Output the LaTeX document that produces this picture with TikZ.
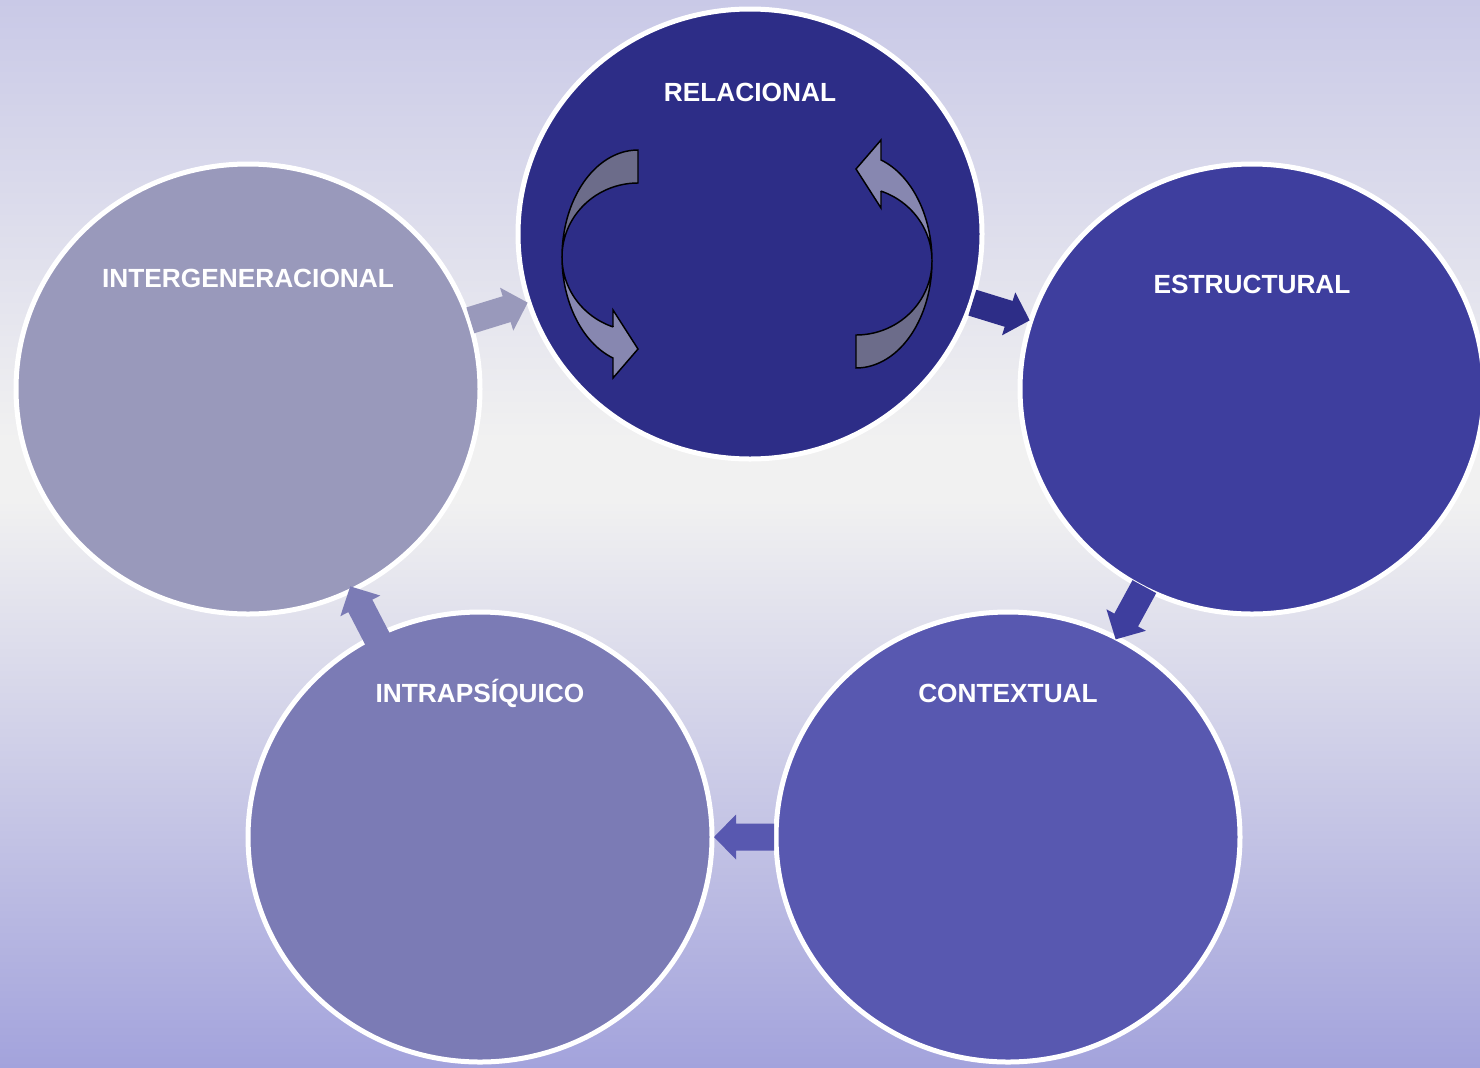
\documentclass[tikz,border=0pt]{standalone}
\usepackage{fontspec}
\setmainfont{Liberation Sans}
\usetikzlibrary{shapes.geometric,calc}
\definecolor{bgtop}{HTML}{C9C9E7}
\definecolor{bgmid}{HTML}{F1F1F1}
\definecolor{bgbot}{HTML}{A3A3DC}
\definecolor{relc}{HTML}{2D2D87}
\definecolor{estc}{HTML}{3E3E9E}
\definecolor{conc}{HTML}{5858B0}
\definecolor{intrac}{HTML}{7B7BB5}
\definecolor{interc}{HTML}{9999BB}
\definecolor{cadark}{HTML}{6C6C8A}
\definecolor{calight}{HTML}{8787B0}
\begin{document}
\begin{tikzpicture}[x=0.75pt,y=-0.75pt,
  circ/.style={ellipse, draw=white, line width=3.75pt, inner sep=0pt,
               minimum width=348pt, minimum height=337.5pt},
  lbl/.style={text=white, font=\fontsize{19.7}{22}\selectfont\bfseries,
              anchor=base, inner sep=0pt},
  barrow/.pic={\fill[pic actions] (-30,-13.5) -- (8,-13.5) -- (8,-22.5) -- (30,0)
               -- (8,22.5) -- (8,13.5) -- (-30,13.5) -- cycle;},
  carrow/.pic={
    \filldraw[fill=cadark, draw=black, line width=1.1pt, line join=miter]
      plot[domain=270:180, samples=40] ({76*cos(\x)},{107*sin(\x)})
      -- plot[domain=180:270, samples=40] ({76*cos(\x)},{74*sin(\x)}) -- cycle;
    \filldraw[fill=calight, draw=black, line width=1.1pt, line join=miter]
      plot[domain=180:109.2, samples=40] ({76*cos(\x)},{107*sin(\x)})
      -- (-25,121) -- (0,92) -- (-25,53) -- (-25,70)
      -- plot[domain=109.2:180, samples=40] ({76*cos(\x)},{74*sin(\x)}) -- cycle;
  }]
\clip (0,0) rectangle (1480,1067);
% background
\shade[top color=bgtop, bottom color=bgmid] (0,0) rectangle (1480,440);
\fill[bgmid] (0,439) rectangle (1480,501);
\shade[top color=bgmid, bottom color=bgbot] (0,500) rectangle (1480,1067);
% circles
\node[circ, fill=relc]   (rel)   at (750,234) {};
\node[circ, fill=estc]   (est)   at (1252,389) {};
\node[circ, fill=conc]   (con)   at (1008,837) {};
\node[circ, fill=intrac] (intra) at (480,837) {};
\node[circ, fill=interc] (inter) at (248,389) {};
% block arrows between circles
\path let \p1=($(rel)-(inter)$), \n1={atan2(\y1,\x1)} in
  ($(inter)!0.5!(rel)$) pic[rotate=\n1, fill=interc] {barrow};
\path let \p1=($(est)-(rel)$), \n1={atan2(\y1,\x1)} in
  ($(rel)!0.5!(est)$) pic[rotate=\n1, fill=relc] {barrow};
\path let \p1=($(con)-(est)$), \n1={atan2(\y1,\x1)} in
  ($(est)!0.5!(con)$) pic[rotate=\n1, fill=estc] {barrow};
\path let \p1=($(intra)-(con)$), \n1={atan2(\y1,\x1)} in
  ($(con)!0.5!(intra)$) pic[rotate=\n1, fill=conc] {barrow};
\path let \p1=($(inter)-(intra)$), \n1={atan2(\y1,\x1)} in
  ($(intra)!0.5!(inter)$) pic[rotate=\n1, fill=intrac] {barrow};
% curved arrows inside RELACIONAL
\pic at (638,257) {carrow};
\pic[rotate=180] at (856,261) {carrow};
% labels
\node[lbl] (lrel)   at (750,101) {RELACIONAL};
\node[lbl] (lest)   at (1252,293) {ESTRUCTURAL};
\node[lbl] (lcon)   at (1008,702) {CONTEXTUAL};
\node[lbl] (lintra) at (480,702) {INTRAPSÍQUICO};
\node[lbl] (linter) at (248,287) {INTERGENERACIONAL};
\end{tikzpicture}
\end{document}
